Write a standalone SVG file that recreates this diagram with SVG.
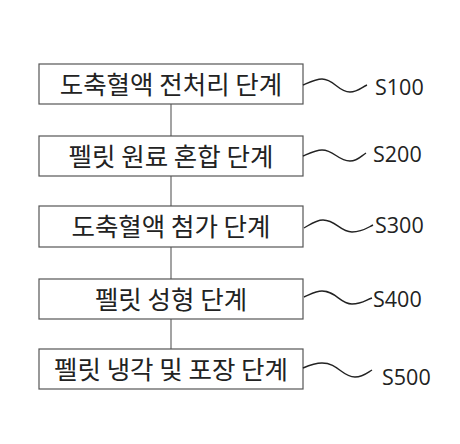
<svg xmlns="http://www.w3.org/2000/svg" width="460" height="444" viewBox="0 0 460 444">
<style>
.box{fill:#fff;stroke:#555;stroke-width:1.2}
.t{font-family:"Noto Sans CJK KR","Noto Sans",sans-serif;font-size:25.5px;fill:#222;text-anchor:middle}
.lab{font-family:"Open Sans","Noto Sans",sans-serif;font-size:21.5px;fill:#222}
.sq{fill:none;stroke:#222;stroke-width:1.4}
.con{stroke:#666;stroke-width:1.2}
</style>
<rect width="460" height="444" fill="#fff"/>
<g id="connectors">
<line class="con" x1="171" y1="104" x2="171" y2="136"/>
<line class="con" x1="171" y1="176" x2="171" y2="206"/>
<line class="con" x1="171" y1="247" x2="171" y2="279"/>
<line class="con" x1="171" y1="319" x2="171" y2="349"/>
</g>
<g id="s100">
<rect class="box" x="39" y="64" width="264" height="40"/>
<text class="t" x="171" y="93.5">도축혈액 전처리 단계</text>
<path class="sq" d="M303,85 C310,82 316,79 322,79 C334,79 338,92 350,92 C358,92 362,87 367,85"/>
<text class="lab" x="375" y="95">S100</text>
</g>
<g id="s200">
<rect class="box" x="39" y="136" width="264" height="40"/>
<text class="t" x="171" y="165.5">펠릿 원료 혼합 단계</text>
<path class="sq" d="M303,156 C310,153 316,150 322,150 C334,150 338,161 350,161 C358,161 361,156 366,153"/>
<text class="lab" x="373" y="162">S200</text>
</g>
<g id="s300">
<rect class="box" x="39" y="206" width="264" height="41"/>
<text class="t" x="171" y="236">도축혈액 첨가 단계</text>
<path class="sq" d="M304,228 C311,224 316,220 323,220 C336,220 340,232 352,232 C362,232 367,228 373,225"/>
<text class="lab" x="375" y="233">S300</text>
</g>
<g id="s400">
<rect class="box" x="39" y="279" width="264" height="40"/>
<text class="t" x="171" y="308.5">펠릿 성형 단계</text>
<path class="sq" d="M304,297 C311,294 316,291 322,291 C336,291 340,304 352,304 C362,304 366,300 372,298"/>
<text class="lab" x="373" y="307">S400</text>
</g>
<g id="s500">
<rect class="box" x="39" y="349" width="264" height="40"/>
<text class="t" x="171" y="378.5">펠릿 냉각 및 포장 단계</text>
<path class="sq" d="M303,368 C310,365 316,363 322,363 C338,363 342,377 355,377 C363,377 367,373 372,370"/>
<text class="lab" x="382" y="385">S500</text>
</g>
</svg>
